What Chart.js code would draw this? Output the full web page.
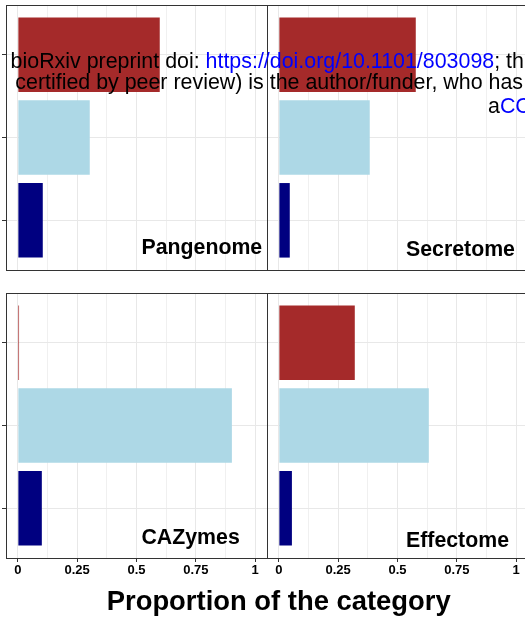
<!DOCTYPE html>
<html>
<head>
<meta charset="utf-8">
<title>Proportion of the category</title>
<script src="https://cdn.jsdelivr.net/npm/chart.js@4/dist/chart.umd.min.js"></script>
<style>
  html, body { margin: 0; padding: 0; background: #fff; overflow: hidden; }
  #page { position: relative; width: 525px; height: 620px; overflow: hidden;
          font-family: "Liberation Sans", Arial, Helvetica, sans-serif; }
  .panel { position: absolute; }
  .panel canvas { display: block; }
  #xtitle { position: absolute; top: 587px; left: 278.7px; transform: translateX(-50%);
            font-size: 27.4px; line-height: 27px; font-weight: bold; color: #000; white-space: nowrap; }
  .notice { position: absolute; font-size: 21.4px; line-height: 21px; color: #000;
            white-space: nowrap; z-index: 5; }
  .notice span.link { color: #0000ff; }
</style>
</head>
<body>
<div id="page">
  <div class="panel" style="left:0px;top:0px"><canvas id="pTL" width="268" height="271"></canvas></div>
  <div class="panel" style="left:266px;top:0px"><canvas id="pTR" width="263" height="271"></canvas></div>
  <div class="panel" style="left:0px;top:288px"><canvas id="pBL" width="268" height="300"></canvas></div>
  <div class="panel" style="left:266px;top:288px"><canvas id="pBR" width="263" height="300"></canvas></div>
  <div id="xtitle">Proportion of the category</div>

  <div class="notice" style="left:10.6px;top:51.3px">bioRxiv preprint doi: <span class="link">https://doi.org/10.1101/803098</span>; th</div>
  <div class="notice" style="left:15.3px;top:72.3px">certified by peer review) is the author/funder, who has</div>
  <div class="notice" style="left:488px;top:96px">a<span class="link">CC</span></div>
</div>

<script>
// Category groups, bottom to top on each panel's y axis
const categories = ['Group 1', 'Group 2', 'Group 3'];
const barColors = ['#000080', '#add8e6', '#a52a2a'];

// Proportions per group (same order as categories)
const pangenome = [0.105, 0.303, 0.598];
const secretome = [0.046, 0.383, 0.577];
const cazymes   = [0.101, 0.902, 0.005];
const effectome = [0.055, 0.632, 0.320];

// Shared x axis
const xTickValues = [0, 0.25, 0.5, 0.75, 1];
const xTickLabels = ['0', '0.25', '0.5', '0.75', '1'];

Chart.defaults.font.family = '"Liberation Sans", Arial, Helvetica, sans-serif';

// major ticks plus the minor grid positions half-way between them
const xGridValues = [];
xTickValues.forEach((v, i) => {
  xGridValues.push(v);
  if (i < xTickValues.length - 1) xGridValues.push((v + xTickValues[i + 1]) / 2);
});
const isMajor = v => xTickValues.indexOf(v) >= 0;

// frame around each facet plus its facet name
const panelFrame = {
  id: 'panelFrame',
  afterDatasetsDraw(chart, args, opts) {
    const { ctx, chartArea: a, scales } = chart;
    ctx.save();
    ctx.strokeStyle = '#333333';
    ctx.lineWidth = 1;
    const l = Math.floor(a.left) + 0.5, r = Math.floor(a.right) + 0.5;
    const t = Math.floor(a.top) + 0.5, b = Math.floor(a.bottom) + 0.5;
    ctx.strokeRect(l, t, r - l, b - t);

    ctx.font = 'bold 21.3px "Liberation Sans", Arial, Helvetica, sans-serif';
    ctx.fillStyle = '#000000';
    ctx.textAlign = 'left';
    ctx.textBaseline = 'alphabetic';
    const m = ctx.measureText(opts.text);
    const cy = scales.y.getPixelForValue(opts.y);
    const base = cy + (m.actualBoundingBoxAscent - m.actualBoundingBoxDescent) / 2;
    ctx.fillText(opts.text, scales.x.getPixelForValue(opts.x), base);
    ctx.restore();
  }
};

function makePanel(id, name, values, cfg) {
  const yPos = categories.map((c, i) => i + 1);
  return new Chart(document.getElementById(id), {
    type: 'bar',
    data: {
      labels: categories,
      datasets: [{
        data: values.map((v, i) => ({ x: v, y: yPos[i] })),
        backgroundColor: barColors,
        borderWidth: 0,
        categoryPercentage: 0.9,
        barPercentage: 1.0
      }]
    },
    plugins: [panelFrame],
    options: {
      indexAxis: 'y',
      responsive: false,
      animation: false,
      events: [],
      layout: { padding: cfg.padding },
      plugins: {
        legend: { display: false },
        tooltip: { enabled: false },
        panelFrame: { text: name, x: cfg.labelX, y: cfg.labelY }
      },
      scales: {
        x: {
          type: 'linear',
          min: -0.05,
          max: 1.05,
          offset: false,
          afterBuildTicks: s => { s.ticks = xGridValues.map(v => ({ value: v })); },
          afterFit: s => { s.height = cfg.xHeight; },
          border: { display: false },
          grid: {
            offset: false,
            color: c => (c.tick && isMajor(c.tick.value)) ? '#e8e8e8' : '#f0f0f0',
            lineWidth: 1,
            drawTicks: cfg.xLabels,
            tickLength: 4,
            tickColor: c => (c.tick && isMajor(c.tick.value)) ? '#333333' : 'rgba(0,0,0,0)'
          },
          ticks: {
            display: cfg.xLabels,
            autoSkip: false,
            maxRotation: 0,
            padding: 1,
            color: '#000000',
            font: { size: 13, weight: 'bold' },
            callback: v => { const i = xTickValues.indexOf(v); return i >= 0 ? xTickLabels[i] : ''; }
          }
        },
        y: {
          type: 'linear',
          min: 0.4,
          max: 3.6,
          offset: false,
          afterBuildTicks: s => { s.ticks = yPos.map(v => ({ value: v })); },
          afterFit: s => { s.width = cfg.yWidth; },
          border: { display: false },
          grid: {
            offset: false,
            color: '#e8e8e8',
            lineWidth: 1,
            drawTicks: cfg.yTicks,
            tickLength: 4,
            tickColor: '#333333'
          },
          ticks: { display: false }
        }
      }
    }
  });
}

makePanel('pTL', 'Pangenome', pangenome, {
  padding: { left: 0, top: 5, right: 1, bottom: 1 }, xHeight: 0, yWidth: 6,
  xLabels: false, yTicks: true, labelX: 0.521, labelY: 0.655
});
makePanel('pTR', 'Secretome', secretome, {
  padding: { left: 1, top: 5, right: 1, bottom: 1 }, xHeight: 0, yWidth: 0,
  xLabels: false, yTicks: false, labelX: 0.536, labelY: 0.655
});
makePanel('pBL', 'CAZymes', cazymes, {
  padding: { left: 0, top: 5, right: 1, bottom: 0 }, xHeight: 30, yWidth: 6,
  xLabels: true, yTicks: true, labelX: 0.521, labelY: 0.632
});
makePanel('pBR', 'Effectome', effectome, {
  padding: { left: 1, top: 5, right: 1, bottom: 0 }, xHeight: 30, yWidth: 0,
  xLabels: true, yTicks: false, labelX: 0.536, labelY: 0.632
});
</script>
</body>
</html>
